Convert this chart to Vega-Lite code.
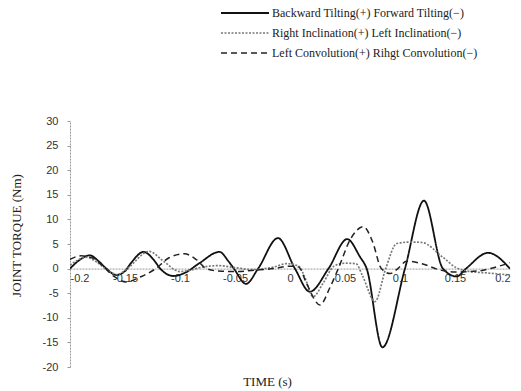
{
  "$schema": "https://vega.github.io/schema/vega-lite/v6.json",
  "width": 440,
  "height": 246,
  "autosize": {"type": "none"},
  "padding": {"left": 70, "top": 121, "right": 11, "bottom": 24},
  "background": "white",
  "config": {
    "view": {"stroke": null}
  },
  "datasets": {
    "curves": [
      {"s": "A", "t": -0.2, "v": 0.0},
      {"s": "A", "t": -0.191, "v": 1.8},
      {"s": "A", "t": -0.182, "v": 2.7},
      {"s": "A", "t": -0.174, "v": 1.5},
      {"s": "A", "t": -0.167, "v": 0.0},
      {"s": "A", "t": -0.158, "v": -1.3},
      {"s": "A", "t": -0.15, "v": -0.5},
      {"s": "A", "t": -0.145, "v": 1.0},
      {"s": "A", "t": -0.133, "v": 3.4},
      {"s": "A", "t": -0.124, "v": 1.8},
      {"s": "A", "t": -0.118, "v": 0.0},
      {"s": "A", "t": -0.106, "v": -1.5},
      {"s": "A", "t": -0.095, "v": -0.8},
      {"s": "A", "t": -0.083, "v": 1.0},
      {"s": "A", "t": -0.064, "v": 3.4},
      {"s": "A", "t": -0.056, "v": 1.5},
      {"s": "A", "t": -0.051, "v": 0.0},
      {"s": "A", "t": -0.04, "v": -3.1},
      {"s": "A", "t": -0.029, "v": 0.0},
      {"s": "A", "t": -0.011, "v": 6.2},
      {"s": "A", "t": 0.0045, "v": 0.0},
      {"s": "A", "t": 0.018, "v": -4.7},
      {"s": "A", "t": 0.035, "v": 0.0},
      {"s": "A", "t": 0.052, "v": 6.0},
      {"s": "A", "t": 0.0636, "v": 2.4},
      {"s": "A", "t": 0.0697, "v": 0.0},
      {"s": "A", "t": 0.084, "v": -16.0},
      {"s": "A", "t": 0.1045, "v": 0.0},
      {"s": "A", "t": 0.1218, "v": 13.8},
      {"s": "A", "t": 0.139, "v": 0.0},
      {"s": "A", "t": 0.1515, "v": -1.6},
      {"s": "A", "t": 0.16, "v": 0.0},
      {"s": "A", "t": 0.18, "v": 3.2},
      {"s": "A", "t": 0.2, "v": 0.0},
      {"s": "B", "t": -0.2, "v": 0.7},
      {"s": "B", "t": -0.185, "v": 2.3},
      {"s": "B", "t": -0.175, "v": 1.2},
      {"s": "B", "t": -0.165, "v": -0.5},
      {"s": "B", "t": -0.157, "v": -1.2},
      {"s": "B", "t": -0.148, "v": 0.0},
      {"s": "B", "t": -0.128, "v": 3.5},
      {"s": "B", "t": -0.115, "v": 1.5},
      {"s": "B", "t": -0.1, "v": -0.6},
      {"s": "B", "t": -0.09, "v": -0.3},
      {"s": "B", "t": -0.08, "v": 0.3},
      {"s": "B", "t": -0.065, "v": 0.6},
      {"s": "B", "t": -0.05, "v": 0.2},
      {"s": "B", "t": -0.035, "v": -0.2},
      {"s": "B", "t": -0.015, "v": 0.3},
      {"s": "B", "t": -0.003, "v": 1.0},
      {"s": "B", "t": 0.008, "v": 0.5},
      {"s": "B", "t": 0.013, "v": -1.5},
      {"s": "B", "t": 0.021, "v": -5.7},
      {"s": "B", "t": 0.03, "v": -3.0},
      {"s": "B", "t": 0.04, "v": 0.5},
      {"s": "B", "t": 0.05, "v": 1.1},
      {"s": "B", "t": 0.06, "v": 1.0},
      {"s": "B", "t": 0.066, "v": -1.5},
      {"s": "B", "t": 0.0773, "v": -6.7},
      {"s": "B", "t": 0.087, "v": 0.0},
      {"s": "B", "t": 0.097, "v": 5.1},
      {"s": "B", "t": 0.11, "v": 5.4},
      {"s": "B", "t": 0.12, "v": 5.3},
      {"s": "B", "t": 0.139, "v": 2.3},
      {"s": "B", "t": 0.151, "v": 0.2},
      {"s": "B", "t": 0.164, "v": -0.6},
      {"s": "B", "t": 0.18, "v": -0.9},
      {"s": "B", "t": 0.2, "v": -1.3},
      {"s": "C", "t": -0.2, "v": 1.9},
      {"s": "C", "t": -0.19, "v": 2.6},
      {"s": "C", "t": -0.18, "v": 2.2},
      {"s": "C", "t": -0.17, "v": 0.5},
      {"s": "C", "t": -0.16, "v": -1.6},
      {"s": "C", "t": -0.149, "v": -2.7},
      {"s": "C", "t": -0.135, "v": -1.6},
      {"s": "C", "t": -0.122, "v": 0.0},
      {"s": "C", "t": -0.11, "v": 2.2},
      {"s": "C", "t": -0.096, "v": 3.0},
      {"s": "C", "t": -0.085, "v": 1.8},
      {"s": "C", "t": -0.076, "v": 0.0},
      {"s": "C", "t": -0.065, "v": -0.5},
      {"s": "C", "t": -0.05, "v": -0.6},
      {"s": "C", "t": -0.03, "v": -0.3},
      {"s": "C", "t": -0.015, "v": 0.0},
      {"s": "C", "t": 0.0, "v": 0.5},
      {"s": "C", "t": 0.008, "v": 0.3},
      {"s": "C", "t": 0.015, "v": -3.0},
      {"s": "C", "t": 0.0273, "v": -7.4},
      {"s": "C", "t": 0.036, "v": -4.0},
      {"s": "C", "t": 0.0439, "v": 0.0},
      {"s": "C", "t": 0.055, "v": 6.0},
      {"s": "C", "t": 0.0667, "v": 8.5},
      {"s": "C", "t": 0.075, "v": 5.5},
      {"s": "C", "t": 0.083, "v": 0.0},
      {"s": "C", "t": 0.091, "v": -1.0},
      {"s": "C", "t": 0.098, "v": 0.0},
      {"s": "C", "t": 0.106, "v": 1.5},
      {"s": "C", "t": 0.12, "v": 1.0},
      {"s": "C", "t": 0.135, "v": -0.2},
      {"s": "C", "t": 0.15, "v": -0.7},
      {"s": "C", "t": 0.17, "v": -0.5},
      {"s": "C", "t": 0.19, "v": 0.5},
      {"s": "C", "t": 0.2, "v": 1.2}
    ]
  },
  "data": {"name": "curves"},
  "transform": [
    {"calculate": "datum.s === 'A' ? 'Backward Tilting(+)  Forward Tilting(−)' : datum.s === 'B' ? 'Right Inclination(+) Left Inclination(−)' : 'Left Convolution(+) Rihgt Convolution(−)'", "as": "series"}
  ],
  "mark": {"type": "line", "interpolate": "monotone", "clip": true},
  "encoding": {
    "x": {
      "field": "t",
      "type": "quantitative",
      "scale": {"domain": [-0.2, 0.2], "nice": false, "zero": false},
      "axis": {
        "offset": -98.4,
        "values": [-0.2, -0.15, -0.1, -0.05, 0, 0.05, 0.1, 0.15, 0.2],
        "labelExpr": "'' + datum.value",
        "grid": false,
        "ticks": false,
        "domainColor": "#999",
        "domainDash": [2, 1],
        "domainWidth": 1,
        "labelFont": "Liberation Sans",
        "labelFontSize": 11,
        "labelColor": "#333",
        "labelPadding": 4,
        "title": "TIME (s)",
        "titleFont": "Liberation Serif",
        "titleFontSize": 13,
        "titleFontWeight": "normal",
        "titleColor": "#222",
        "titleX": 197,
        "titleY": 113,
        "titleBaseline": "middle",
        "titleAlign": "center"
      }
    },
    "y": {
      "field": "v",
      "type": "quantitative",
      "scale": {"domain": [-20, 30], "nice": false, "zero": false},
      "axis": {
        "values": [-20, -15, -10, -5, 0, 5, 10, 15, 20, 25, 30],
        "labelExpr": "'' + datum.value",
        "grid": false,
        "tickSize": 3,
        "tickColor": "#999",
        "domainColor": "#999",
        "domainDash": [2, 1],
        "domainWidth": 1,
        "labelFont": "Liberation Sans",
        "labelFontSize": 11,
        "labelColor": "#333",
        "labelPadding": 9,
        "title": "JOINT TORQUE (Nm)",
        "titleFont": "Liberation Serif",
        "titleFontSize": 13,
        "titleFontWeight": "normal",
        "titleColor": "#222",
        "titleX": -54,
        "titleY": 114,
        "titleBaseline": "middle",
        "titleAlign": "center",
        "titleAngle": -90
      }
    },
    "color": {
      "field": "series",
      "type": "nominal",
      "sort": null,
      "scale": {
        "domain": ["Backward Tilting(+)  Forward Tilting(−)", "Right Inclination(+) Left Inclination(−)", "Left Convolution(+) Rihgt Convolution(−)"],
        "range": ["#111111", "#777777", "#222222"]
      },
      "legend": {
        "orient": "none",
        "legendX": 150,
        "legendY": -118,
        "title": null,
        "padding": 0,
        "symbolType": "stroke",
        "symbolSize": 2304,
        "symbolStrokeWidth": 1.5,
        "clipHeight": 20,
        "rowPadding": 0,
        "labelOffset": 2,
        "labelFont": "Liberation Serif",
        "labelFontSize": 12,
        "labelColor": "#222",
        "labelLimit": 400
      }
    },
    "strokeDash": {
      "field": "series",
      "type": "nominal",
      "sort": null,
      "scale": {
        "domain": ["Backward Tilting(+)  Forward Tilting(−)", "Right Inclination(+) Left Inclination(−)", "Left Convolution(+) Rihgt Convolution(−)"],
        "range": [[1, 0], [2, 1.5], [6, 4]]
      },
      "legend": {
        "orient": "none",
        "legendX": 150,
        "legendY": -118,
        "title": null,
        "padding": 0,
        "symbolType": "stroke",
        "symbolSize": 2304,
        "symbolStrokeWidth": 1.5,
        "clipHeight": 20,
        "rowPadding": 0,
        "labelOffset": 2,
        "labelFont": "Liberation Serif",
        "labelFontSize": 12,
        "labelColor": "#222",
        "labelLimit": 400
      }
    },
    "strokeWidth": {
      "field": "series",
      "type": "nominal",
      "sort": null,
      "legend": null,
      "scale": {
        "domain": ["Backward Tilting(+)  Forward Tilting(−)", "Right Inclination(+) Left Inclination(−)", "Left Convolution(+) Rihgt Convolution(−)"],
        "range": [1.8, 1.5, 1.6]
      }
    }
  }
}
